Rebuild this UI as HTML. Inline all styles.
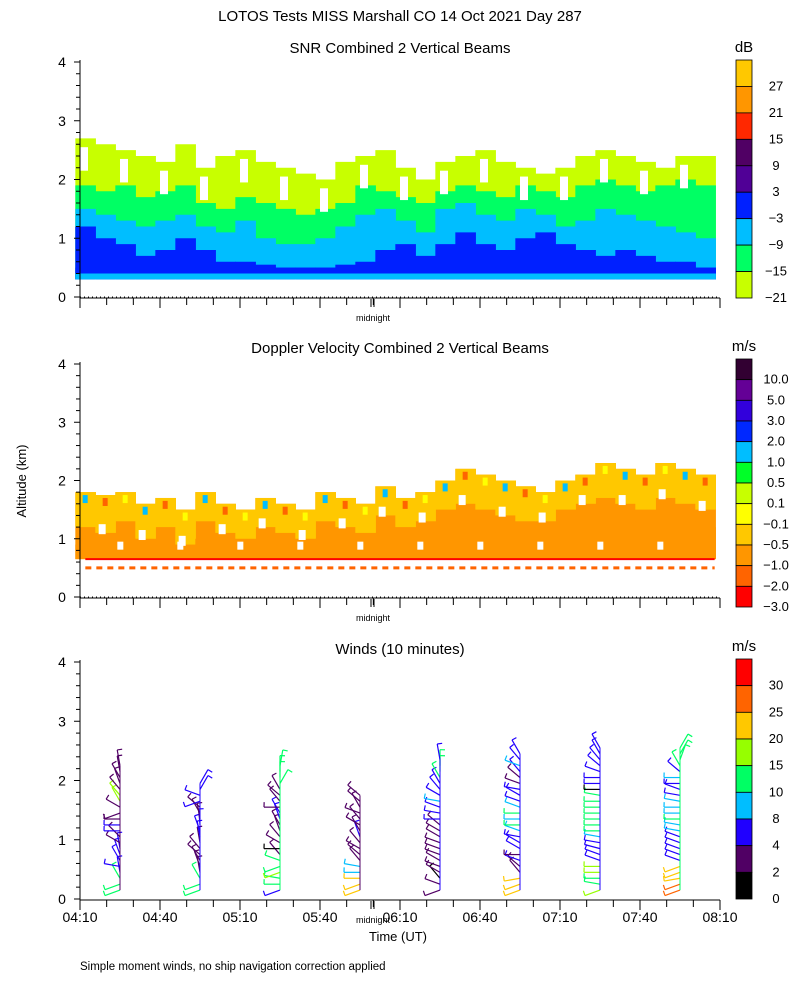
<!DOCTYPE html>
<html><head><meta charset="utf-8"><style>
body{margin:0;background:#fff}
svg{display:block}
text{font-family:"Liberation Sans",sans-serif;fill:#000}
</style></head><body>
<svg id="c" width="800" height="1000" viewBox="0 0 800 1000" xmlns="http://www.w3.org/2000/svg"></svg>
<script>
// ---- data ----
const snrTimes = [2,9.5,17,24.5,32,39.5,47,54.5,62,69.5,77,84.5,92,99.5,107,114.5,122,129.5,137,144.5,152,159.5,167,174.5,182,189.5,197,204.5,212,219.5,227,234.5];
const snrTop   = [2.7,2.6,2.5,2.4,2.3,2.6,2.2,2.4,2.5,2.3,2.2,2.1,2.0,2.3,2.4,2.5,2.2,2.0,2.3,2.4,2.5,2.3,2.2,2.1,2.2,2.4,2.5,2.4,2.3,2.2,2.4,2.4];
const snrGreenTop = [1.9,1.8,1.9,1.7,1.8,1.9,1.6,1.5,1.7,1.6,1.5,1.4,1.5,1.6,1.9,1.8,1.7,1.6,1.8,1.9,1.8,1.7,1.9,1.8,1.7,1.9,2.0,1.9,1.8,1.9,2.0,1.9];
const snrCyanTop  = [1.5,1.4,1.3,1.2,1.3,1.4,1.2,1.1,1.3,1.0,0.9,0.9,1.0,1.2,1.4,1.5,1.3,1.1,1.5,1.6,1.4,1.3,1.5,1.4,1.2,1.3,1.5,1.4,1.3,1.2,1.1,1.0];
const snrBlueTop  = [1.2,1.0,0.9,0.7,0.8,1.0,0.8,0.6,0.6,0.55,0.5,0.5,0.5,0.55,0.6,0.8,0.9,0.7,0.9,1.1,0.9,0.8,1.0,1.1,0.9,0.8,0.7,0.8,0.7,0.6,0.6,0.5];
const dopTop = [1.8,1.75,1.8,1.6,1.7,1.5,1.8,1.6,1.5,1.7,1.6,1.5,1.8,1.7,1.6,1.9,1.7,1.8,2.0,2.2,2.1,2.0,1.9,1.8,2.0,2.1,2.3,2.2,2.1,2.3,2.2,2.1];
const dopMid = [1.2,1.1,1.3,1.0,1.2,0.9,1.3,1.1,1.0,1.2,1.1,1.0,1.3,1.2,1.1,1.4,1.2,1.3,1.5,1.6,1.5,1.4,1.3,1.3,1.5,1.6,1.7,1.6,1.5,1.7,1.6,1.5];
const snrLabels = ["27","21","15","9","3","\u22123","\u22129","\u221215","\u221221"];
const snrColors = ["#ffc800","#ff9600","#ff2800","#500064","#500096","#0020ff","#00beff","#00ff64","#c8ff00"];
const dopLabels = ["10.0","5.0","3.0","2.0","1.0","0.5","0.1","\u22120.1","\u22120.5","\u22121.0","\u22122.0","\u22123.0"];
const dopColors = ["#320032","#640096","#3200dc","#0028ff","#00beff","#00ff28","#c8ff00","#ffff00","#ffc800","#ff9600","#ff6400","#ff0000"];
const windLabels = ["30","25","20","15","10","8","4","2","0"];
const windColors = ["#ff0000","#ff6400","#ffc800","#96ff00","#00ff64","#00beff","#2000ff","#500064","#000000"];
const windBins = [0,2,4,8,10,15,20,25,30];
const windTimes = [15,45,75,105,135,165,195,225];
const windSpeeds = [
 [12,12,12,6,6,6,6,6,3,3,6,6,3,3,3,18,18,3,3,3,3,3],
 [12,12,12,3,3,3,3,3,3,6,6,6,3,3,3,6,6,6,6],
 [6,12,12,16,12,12,3,1,3,3,3,3,6,6,3,3,3,3,12,12,12,12],
 [22,22,22,9,9,3,3,3,3,6,3,3,3,3,3,3,3],
 [3,3,1,3,3,3,3,3,3,3,3,3,6,6,6,9,6,6,6,12,12,12,6],
 [22,22,22,3,3,6,3,6,6,6,9,12,9,12,9,6,6,6,3,3,6,9,6,6],
 [18,12,12,16,16,6,6,6,6,9,12,12,12,12,12,12,12,1,6,6,6,6,6,6,6],
 [28,26,22,22,22,6,6,6,6,6,9,9,12,9,9,9,6,6,6,9,6,12,12,12,12]];
const windDirs = [
 [200,200,120,100,170,120,110,100,150,135,180,180,180,200,150,120,130,130,110,120,100,100],
 [200,200,120,100,110,120,140,130,100,100,110,95,100,120,140,200,160,60,60],
 [200,180,170,200,200,160,130,180,150,130,110,120,110,120,180,130,140,120,60,90,90,80],
 [200,200,180,180,170,130,140,150,130,110,120,150,130,160,120,140,140],
 [200,160,130,150,160,150,160,160,160,150,150,140,180,170,160,170,150,130,120,120,90,90,100],
 [200,200,190,130,140,160,180,150,150,170,160,180,180,180,160,160,150,170,160,140,130,160,130,120],
 [200,170,180,180,180,160,160,165,170,170,180,180,180,180,180,180,170,180,180,180,160,140,130,120,120],
 [200,200,190,200,200,160,160,160,160,160,170,170,180,180,180,170,170,160,180,180,140,120,70,60,60]];
const timeTicks = ["04:10","04:40","05:10","05:40","06:10","06:40","07:10","07:40","08:10"];

// ---- helpers ----
const svg = document.getElementById('c');
const NS = 'http://www.w3.org/2000/svg';
function mk(tag, a, parent){const e=document.createElementNS(NS,tag);for(const k in a)e.setAttribute(k,a[k]);(parent||svg).appendChild(e);return e;}
const X0=80,X1=720;
const xs = t => X0 + t/240*(X1-X0);
const panels = [{y0:297,y4:62},{y0:597,y4:364},{y0:899,y4:662}];
const ys = (p,km) => p.y0 + km/4*(p.y4-p.y0);

function txt(s,x,y,size,anchor,name,parent){const t=mk('text',{x:x,y:y,'font-size':size,'text-anchor':anchor||'start'},parent);t.textContent=s;return t;}

txt("LOTOS Tests MISS Marshall CO  14 Oct 2021 Day 287",400,21,15,'middle','main-title');
txt("SNR Combined 2 Vertical Beams",400,53,15,'middle','snr-title');
txt("Doppler Velocity Combined 2 Vertical Beams",400,353,15,'middle','doppler-title');
txt("Winds (10 minutes)",400,654,15,'middle','winds-title');
const yt=txt("Altitude (km)",0,0,13,'middle','y-axis-title');yt.setAttribute('transform','translate(26,481) rotate(-90)');
txt("Time (UT)",398,941,13,'middle','x-axis-title');
txt("Simple moment winds, no ship navigation correction applied",80,970,11.5,'start','footnote');

// ---- SNR panel ----
const g1=mk('g',{});
const p1=panels[0];
function band(g,p,lo,hiArr,color,name,times){
  for(let i=0;i<times.length;i++){
    const xa=xs(times[i]-3.75), w=xs(7.5)-X0+0.6;
    const lov = typeof lo==='number'?lo:lo[i];
    const hi=hiArr[i]; if(hi<=lov) continue;
    const r=mk('rect',{x:xa,y:ys(p,hi),width:w,height:ys(p,lov)-ys(p,hi),fill:color},g);
    
    
  }
}
band(g1,p1,0.3,snrTop,'#c8ff00','snr-band-yellowgreen',snrTimes);
band(g1,p1,0.3,snrGreenTop,'#00ff64','snr-band-green',snrTimes);
band(g1,p1,0.3,snrCyanTop,'#00beff','snr-band-cyan',snrTimes);
band(g1,p1,0.3,snrBlueTop,'#0020ff','snr-band-blue',snrTimes);
const lowBlue=snrTimes.map(()=>0.5), lowCyan=snrTimes.map(()=>0.4);
band(g1,p1,0.3,lowBlue,'#0020ff','snr-band-low-blue',snrTimes);
band(g1,p1,0.3,lowCyan,'#00beff','snr-band-low-cyan',snrTimes);
for(let i=0;i<snrTimes.length;i+=2){
  const r=mk('rect',{x:xs(snrTimes[i]-2),y:ys(p1,snrTop[i]-0.15),width:8,height:ys(p1,snrTop[i]-0.55)-ys(p1,snrTop[i]-0.15),fill:'#fff'},g1);
  
  
}

// ---- Doppler panel ----
const g2=mk('g',{});
const p2=panels[1];
band(g2,p2,0.65,dopTop,'#ff9600','doppler-band-orange',snrTimes);
band(g2,p2,dopMid,dopTop,'#ffc800','doppler-band-lightorange',snrTimes);
band(g2,p2,0.65,dopMid.map(v=>v-0.3),'#ff9600','doppler-band-orange-low',snrTimes);
for(let i=0;i<snrTimes.length;i++){
  const c = i%3===0?'#00beff':(i%3===1?'#ff6400':'#ffff00');
  const r=mk('rect',{x:xs(snrTimes[i]-1),y:ys(p2,dopTop[i]-0.05),width:5,height:8,fill:c},g2);
  
  
  if(i%2===1){
    const h=mk('rect',{x:xs(snrTimes[i]-2.5),y:ys(p2,dopMid[i]+0.15),width:7,height:10,fill:'#fff'},g2);
    
    
  }
  if(i%3===2){
    const h2=mk('rect',{x:xs(snrTimes[i]-3),y:ys(p2,0.95),width:6,height:8,fill:'#fff'},g2);
    
    
  }
}
const l1=mk('line',{x1:xs(2),x2:xs(238),y1:ys(p2,0.65),y2:ys(p2,0.65),stroke:'#ff0000','stroke-width':2},g2);

const l2=mk('line',{x1:xs(2),x2:xs(238),y1:ys(p2,0.5),y2:ys(p2,0.5),stroke:'#ff6400','stroke-width':3,'stroke-dasharray':'6 5'},g2);


// ---- Winds panel ----
const g3=mk('g',{});
const p3=panels[2];
function windColor(s){let k=0;for(let i=0;i<windBins.length;i++)if(s>=windBins[i])k=i;return windColors[windColors.length-1-k];}
windTimes.forEach((t,pi)=>{
  const x=xs(t);
  windSpeeds[pi].forEach((s,li)=>{
    const km=0.15+li*0.1, y=ys(p3,km);
    const a=windDirs[pi][li]*Math.PI/180, L=16;
    const ex=x+L*Math.cos(a), ey=y-L*Math.sin(a);
    const col=windColor(s);
    const b=mk('line',{x1:x,y1:y,x2:ex,y2:ey,stroke:col,'stroke-width':1.2},g3);
    
    
    const f=mk('line',{x1:ex,y1:ey,x2:ex+5*Math.cos(a-1.6),y2:ey-5*Math.sin(a-1.6),stroke:col,'stroke-width':1.2},g3);
    
    
  });
  const n=windSpeeds[pi].length;
  const st=mk('line',{x1:x,y1:ys(p3,0.15),x2:x,y2:ys(p3,0.15+(n-1)*0.1),stroke:windColor(windSpeeds[pi][n-1]),'stroke-width':1},g3);
  
  
});

// ---- axes ----
panels.forEach((p,pi)=>{
  const ax=mk('g',{stroke:'#000','stroke-width':1,fill:'none'});
  
  
  mk('line',{x1:X0,y1:p.y4-2,x2:X0,y2:p.y0+1},ax);
  mk('line',{x1:X0,y1:p.y0+1,x2:X1,y2:p.y0+1},ax);
  if(pi<2) mk('line',{x1:X0,y1:p.y0,x2:X1,y2:p.y0,'stroke-dasharray':'1 3'},ax);
  for(let k=0;k<=20;k++){
    const y=ys(p,k*0.2), L=(k%5===0)?6:4;
    mk('line',{x1:X0-L,y1:y,x2:X0,y2:y},ax);
  }
  for(let k=0;k<=4;k++) txt(String(k),62,ys(p,k)+5,14,'middle','y-tick-label');
  for(let m=0;m<=240;m+=10){
    const x=xs(m), L=(m%30===0)?10:7;
    mk('line',{x1:x,y1:p.y0+1,x2:x,y2:p.y0+1+L},ax);
  }
  mk('line',{x1:371,y1:p.y0+2,x2:371,y2:p.y0+10},ax);
  mk('line',{x1:374,y1:p.y0+2,x2:374,y2:p.y0+10},ax);
  txt("midnight",373,p.y0+24,9,'middle','midnight-label');
});
timeTicks.forEach((s,i)=>txt(s,xs(i*30),922,14,'middle','x-tick-label'));

// ---- colorbars ----
function cbar(y0,y1,cols,labels,unit,name){
  const g=mk('g',{});
  const h=(y1-y0)/cols.length;
  cols.forEach((c,i)=>{const r=mk('rect',{x:736,y:y0+i*h,width:16,height:h,fill:c,stroke:'#000','stroke-width':0.8},g);
    });
  labels.forEach((s,i)=>txt(s,776,y0+(i+1)*h+4,13,'middle','colorbar-label',g));
  txt(unit,744,y0-8,15,'middle','colorbar-unit',g);
}
cbar(60,298,snrColors,snrLabels,'dB','snr-colorbar');
cbar(359,607,dopColors,dopLabels,'m/s','doppler-colorbar');
cbar(659,899,windColors,windLabels,'m/s','wind-colorbar');
</script>
</body></html>
